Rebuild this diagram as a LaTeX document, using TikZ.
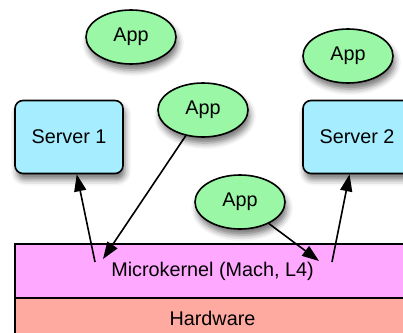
\documentclass[tikz,border=0pt]{standalone}
\usepackage{fontspec}
\setmainfont{Liberation Sans}
\usetikzlibrary{shapes.geometric,arrows.meta,shadows.blur}
\definecolor{appgreen}{RGB}{153,247,166}
\definecolor{servercyan}{RGB}{166,238,255}
\definecolor{kernelpink}{RGB}{255,168,255}
\definecolor{hwsalmon}{RGB}{255,170,160}
\begin{document}
\begin{tikzpicture}[x=1pt,y=-1pt,>={Triangle[length=17pt,width=12pt]},
  font=\fontsize{19.8}{23}\selectfont,
  shade/.style={blur shadow={shadow xshift=2pt,shadow yshift=-6pt,shadow blur radius=6pt,shadow opacity=55}},
  app/.style={ellipse,draw,line width=1.6pt,fill=appgreen,minimum width=90pt,minimum height=54pt,inner sep=0pt,shade},
  server/.style={rectangle,rounded corners=8pt,draw,line width=1.6pt,fill=servercyan,minimum width=108pt,minimum height=73pt,shade},
  layer/.style={rectangle,draw,line width=1.6pt,minimum width=395pt,inner sep=0pt},
  link/.style={->,line width=1.6pt}]
\useasboundingbox (0,0) rectangle (403,332);
\clip (0,0) rectangle (403,332);
% layers
\node[layer,fill=hwsalmon,minimum height=40pt] (hw) at (212.5,318) {Hardware};
\node[layer,fill=kernelpink,minimum height=54pt] (kernel) at (212.5,271) {Microkernel (Mach, L4)};
% servers and apps
\node[server] (server1) at (69,137) {Server 1};
\node[server] (server2) at (357,137) {Server 2};
\node[app] (app1) at (131,37) {App};
\node[app] (app2) at (348,56) {App};
\node[app] (app3) at (203,110) {App};
\node[app] (app4) at (240,202) {App};
% ends in the kernel
\coordinate (k1) at (95,262);
\coordinate (k2) at (103,259);
\coordinate (k3) at (319,261);
\coordinate (k4) at (332,262);
\draw[link] (k1) -- (server1);
\draw[link] (app3) -- (k2);
\draw[link] (app4) -- (k3);
\draw[link] (k4) -- (server2);
\end{tikzpicture}
\end{document}
